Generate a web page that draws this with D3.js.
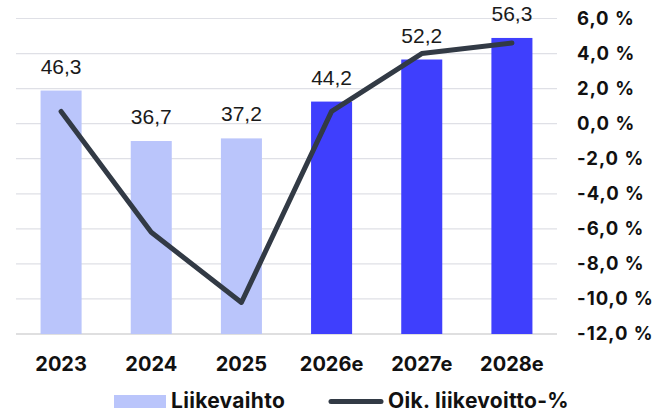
<!DOCTYPE html>
<html>
<head>
<meta charset="utf-8">
<script src="https://cdn.jsdelivr.net/npm/d3@7"></script>
<style>
  body { margin: 0; background: #fff; }
  svg { display: block; }
  .bar-label { font-family: "Liberation Sans", Arial, sans-serif; font-size: 21px; fill: #1a1a1a; }
  .x-label, .y-label, .legend-label { font-family: Inter, "Liberation Sans", sans-serif; font-weight: 700; fill: #111; }
</style>
</head>
<body>
<svg id="chart"></svg>
<script>
// data
const years = ['2023', '2024', '2025', '2026e', '2027e', '2028e'];
const revenue = [46.3, 36.7, 37.2, 44.2, 52.2, 56.3];
const ebitPct = [0.7, -6.2, -10.2, 0.7, 4.0, 4.6];
const forecast = [false, false, false, true, true, true];
const pctTicks = [6, 4, 2, 0, -2, -4, -6, -8, -10, -12];

const width = 656, height = 414;
const plotLeft = 16, plotRight = 557, plotTop = 18.5, plotBottom = 334;

const svg = d3.select('#chart')
    .attr('width', width)
    .attr('height', height);

const x = d3.scaleBand()
    .domain(years)
    .range([plotLeft, plotRight])
    .paddingInner(0.545)
    .paddingOuter(0.2725);

const yRev = d3.scaleLinear().domain([0, 60]).range([plotBottom, plotTop]);
const yPct = d3.scaleLinear().domain([-12, 6]).range([plotBottom, plotTop]);

const fi = d3.formatLocale({ decimal: ',', thousands: ' ', grouping: [3], currency: ['', '€'], minus: '-' });
const fmtPct = v => fi.format('.1f')(v) + ' %';
const fmtVal = fi.format('.1f');

// gridlines
svg.append('g').selectAll('line')
    .data(pctTicks)
    .join('line')
    .attr('x1', plotLeft)
    .attr('x2', plotRight)
    .attr('y1', d => yPct(d))
    .attr('y2', d => yPct(d))
    .attr('stroke', d => d === -12 ? '#d4d4d6' : '#dfe0e6')
    .attr('stroke-width', d => d === -12 ? 1.5 : 1.2);

// bars
const rows = years.map((y, i) => ({ year: y, rev: revenue[i], pct: ebitPct[i], fc: forecast[i] }));

svg.append('g').selectAll('rect')
    .data(rows)
    .join('rect')
    .attr('x', d => x(d.year))
    .attr('width', x.bandwidth())
    .attr('y', d => yRev(d.rev))
    .attr('height', d => plotBottom - yRev(d.rev))
    .attr('fill', d => d.fc ? '#3f3ffd' : '#bac5fb');

svg.append('g').selectAll('text')
    .data(rows)
    .join('text')
    .attr('class', 'bar-label')
    .attr('x', d => x(d.year) + x.bandwidth() / 2)
    .attr('y', d => yRev(d.rev) - 17)
    .attr('text-anchor', 'middle')
    .text(d => fmtVal(d.rev));

// line
const line = d3.line()
    .x(d => x(d.year) + x.bandwidth() / 2)
    .y(d => yPct(d.pct));

svg.append('path')
    .datum(rows)
    .attr('d', line)
    .attr('fill', 'none')
    .attr('stroke', '#323a45')
    .attr('stroke-width', 5)
    .attr('stroke-linejoin', 'round')
    .attr('stroke-linecap', 'round');

// x axis
const xAxis = svg.append('g')
    .attr('transform', `translate(0,${plotBottom})`)
    .call(d3.axisBottom(x).tickSize(0).tickPadding(0));
xAxis.select('.domain').remove();
xAxis.selectAll('text')
    .attr('class', 'x-label')
    .attr('y', 37)
    .attr('dy', 0)
    .style('font-size', '20px');

// right axis
const yAxis = svg.append('g')
    .attr('transform', `translate(${plotRight},0)`)
    .call(d3.axisRight(yPct).tickValues(pctTicks).tickSize(0).tickPadding(20).tickFormat(fmtPct));
yAxis.select('.domain').remove();
yAxis.selectAll('text')
    .attr('class', 'y-label')
    .style('font-size', '18.5px')
    .style('letter-spacing', '1px');

// legend
const legend = svg.append('g');
legend.append('rect')
    .attr('x', 114).attr('y', 395)
    .attr('width', 52).attr('height', 13)
    .attr('fill', '#bac5fb');
legend.append('text')
    .attr('class', 'legend-label')
    .attr('x', 171).attr('y', 408)
    .style('font-size', '21px')
    .style('letter-spacing', '0.3px')
    .text('Liikevaihto');
legend.append('line')
    .attr('x1', 331).attr('x2', 381)
    .attr('y1', 401.5).attr('y2', 401.5)
    .attr('stroke', '#323a45')
    .attr('stroke-width', 5)
    .attr('stroke-linecap', 'round');
legend.append('text')
    .attr('class', 'legend-label')
    .attr('x', 388).attr('y', 408)
    .style('font-size', '21px')
    .style('letter-spacing', '0.3px')
    .text('Oik. liikevoitto-%');
</script>
</body>
</html>
